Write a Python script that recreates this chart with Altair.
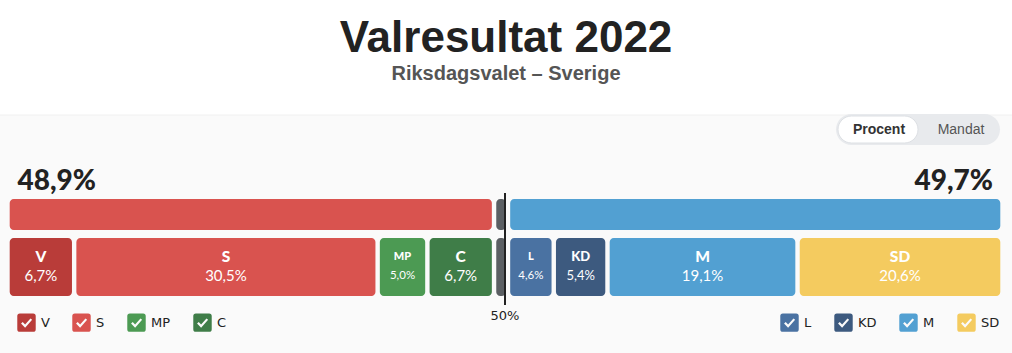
import altair as alt
import pandas as pd

# ---- data ----
left_parties = ["V", "S", "MP", "C"]
left_pct = [6.7, 30.5, 5.0, 6.7]
left_colors = ["#b93c39", "#d9534f", "#4c9a53", "#3f7d48"]

right_parties = ["L", "KD", "M", "SD"]
right_pct = [4.6, 5.4, 19.1, 20.6]
right_colors = ["#4a72a2", "#3d5a7f", "#52a0d2", "#f4cb5f"]

other_party = ["Övriga"]
other_pct = [1.4]
other_color = "#5b5f63"

majority = [50]
toggle_labels = ["Procent", "Mandat"]


def fmt(v):
    return f"{v:.1f}".replace(".", ",") + "%"


parties = left_parties + other_party + right_parties
pcts = left_pct + other_pct + right_pct
df = pd.DataFrame({"party": parties, "pct": pcts})
df["end"] = df["pct"].cumsum().round(2)
df["start"] = (df["end"] - df["pct"]).round(2)
df["mid"] = (df["start"] + df["end"]) / 2
df["label"] = df["pct"].map(fmt)
df["side"] = ["L"] * len(left_parties) + ["O"] + ["R"] * len(right_parties)

sum_left = round(sum(left_pct), 1)
sum_other = round(sum(other_pct), 1)
sum_right = round(sum(right_pct), 1)
total = round(sum_left + sum_other + sum_right, 1)

blocs = pd.DataFrame({
    "bloc": ["left", "other", "right"],
    "start": [0, sum_left, sum_left + sum_other],
    "end": [sum_left, sum_left + sum_other, total],
})

xscale = alt.Scale(domain=[0, 100], range=[7.5, 1002.5])
X = lambda f: alt.X(f, scale=xscale, axis=None)

CHECK = ("M-0.72,-1L0.72,-1Q1,-1 1,-0.72L1,0.72Q1,1 0.72,1L-0.72,1Q-1,1 -1,0.72L-1,-0.72Q-1,-1 -0.72,-1Z"
         "M-0.41,-0.08L-0.59,0.08L-0.15,0.55L0.61,-0.30L0.43,-0.46L-0.15,0.21Z")

legend_common = dict(
    title=None, orient="none", direction="horizontal",
    symbolType=CHECK, symbolSize=340, symbolStrokeWidth=0, symbolOpacity=1,
    labelFont="DejaVu Sans", labelFontSize=13, labelColor="#222",
    labelOffset=5, columnPadding=22, padding=0, legendY=213,
)

bar_kw = dict(cornerRadius=4, xOffset=2.2, x2Offset=-2.2)

# panel background
panel = alt.Chart(pd.DataFrame({"p": [0]})).mark_rect(color="#fafafa").encode(
    x=alt.value(0), x2=alt.value(1012), y=alt.value(15), y2=alt.value(253)
)
panel_line = alt.Chart(pd.DataFrame({"p": [0]})).mark_rule(color="#f0f0f0").encode(
    x=alt.value(0), x2=alt.value(1012), y=alt.value(15)
)

# top bloc bars
top_left = alt.Chart(blocs).transform_filter("datum.bloc == 'left'").mark_bar(
    color=left_colors[1], **bar_kw).encode(x=X("start:Q"), x2="end:Q", y=alt.value(99), y2=alt.value(130))
top_other = alt.Chart(blocs).transform_filter("datum.bloc == 'other'").mark_bar(
    color=other_color, **bar_kw).encode(x=X("start:Q"), x2="end:Q", y=alt.value(99), y2=alt.value(130))
top_right = alt.Chart(blocs).transform_filter("datum.bloc == 'right'").mark_bar(
    color=right_colors[2], **bar_kw).encode(x=X("start:Q"), x2="end:Q", y=alt.value(99), y2=alt.value(130))

# party blocks
left_blocks = alt.Chart(df).transform_filter("datum.side == 'L'").mark_bar(**bar_kw).encode(
    x=X("start:Q"), x2="end:Q", y=alt.value(138), y2=alt.value(196),
    fill=alt.Fill("party:N", scale=alt.Scale(domain=left_parties, range=left_colors),
                  legend=alt.Legend(legendX=17, **legend_common)),
)
right_blocks = alt.Chart(df).transform_filter("datum.side == 'R'").mark_bar(**bar_kw).encode(
    x=X("start:Q"), x2="end:Q", y=alt.value(138), y2=alt.value(196),
    color=alt.Color("party:N", scale=alt.Scale(domain=right_parties, range=right_colors),
                    legend=alt.Legend(legendX=780, **legend_common)),
)
other_block = alt.Chart(df).transform_filter("datum.side == 'O'").mark_bar(
    color=other_color, **bar_kw).encode(x=X("start:Q"), x2="end:Q", y=alt.value(138), y2=alt.value(196))

labelled = alt.Chart(df).transform_filter("datum.side != 'O'").transform_calculate(
    nfs="datum.pct < 5.2 ? 11 : (datum.pct < 6 ? 13 : 15.5)",
    pfs="datum.pct < 5.2 ? 11.5 : (datum.pct < 6 ? 13 : 15)",
)
names = labelled.mark_text(font="Lato", fontWeight=900, color="white", baseline="middle").encode(
    x=X("mid:Q"), y=alt.value(157), text="party:N", size=alt.Size("nfs:Q", scale=None))
values = labelled.mark_text(font="Lato", color="white", baseline="middle").encode(
    x=X("mid:Q"), y=alt.value(176), text="label:N", size=alt.Size("pfs:Q", scale=None))

# bloc totals
tot_left = alt.Chart(pd.DataFrame({"pos": [0], "label": [fmt(sum_left)]})).mark_text(
    font="Lato", fontWeight=900, fontSize=28, color="#222", align="left", dx=10, baseline="alphabetic"
).encode(x=X("pos:Q"), y=alt.value(90), text="label:N")
tot_right = alt.Chart(pd.DataFrame({"pos": [total], "label": [fmt(sum_right)]})).mark_text(
    font="Lato", fontWeight=900, fontSize=28, color="#222", align="right", dx=-9.5, baseline="alphabetic"
).encode(x=X("pos:Q"), y=alt.value(90), text="label:N")

# majority line
maj = pd.DataFrame({"v": majority, "label": [f"{m}%" for m in majority]})
rule = alt.Chart(maj).mark_rule(color="#222", strokeWidth=2).encode(
    x=X("v:Q"), y=alt.value(93), y2=alt.value(205))
rule_text = alt.Chart(maj).mark_text(font="DejaVu Sans", fontSize=13, color="#222", baseline="middle").encode(
    x=X("v:Q"), y=alt.value(216), text="label:N")

# toggle
tog = pd.DataFrame({"label": toggle_labels})
tog_bg = alt.Chart(tog.head(1)).mark_rect(color="#e8eaed", cornerRadius=15.5).encode(
    x=alt.value(836), x2=alt.value(1000), y=alt.value(14), y2=alt.value(45))
tog_on = alt.Chart(tog.head(1)).mark_rect(color="white", cornerRadius=13.5, stroke="#dde0e4", strokeWidth=1).encode(
    x=alt.value(838), x2=alt.value(918), y=alt.value(16), y2=alt.value(43))
tog_t1 = alt.Chart(tog.head(1)).mark_text(font="Liberation Sans", fontWeight="bold", fontSize=14, color="#333",
                                          baseline="middle").encode(x=alt.value(879), y=alt.value(30), text="label:N")
tog_t2 = alt.Chart(tog.tail(1)).mark_text(font="Liberation Sans", fontSize=14, color="#555",
                                          baseline="middle").encode(x=alt.value(961), y=alt.value(30), text="label:N")

chart = alt.layer(
    panel, panel_line, tog_bg, tog_on, tog_t1, tog_t2,
    top_left, top_other, top_right,
    left_blocks, other_block, right_blocks, names, values,
    tot_left, tot_right, rule, rule_text,
).properties(
    width=1012, height=253,
    autosize=alt.AutoSizeParams(type="none"),
    padding={"left": 0, "right": 0, "top": 100, "bottom": 0},
    background="#ffffff",
    title=alt.TitleParams(
        text="Valresultat 2022", subtitle="Riksdagsvalet – Sverige",
        font="Liberation Sans", fontSize=44, fontWeight="bold", color="#222",
        subtitleFont="Liberation Sans", subtitleFontSize=20, subtitleFontWeight="bold",
        subtitleColor="#555", subtitlePadding=3, anchor="middle", offset=16,
    ),
).configure_view(stroke=None).resolve_scale(color="independent", fill="independent")

chart.save("out.html", embed_options={"renderer": "svg", "actions": False})
